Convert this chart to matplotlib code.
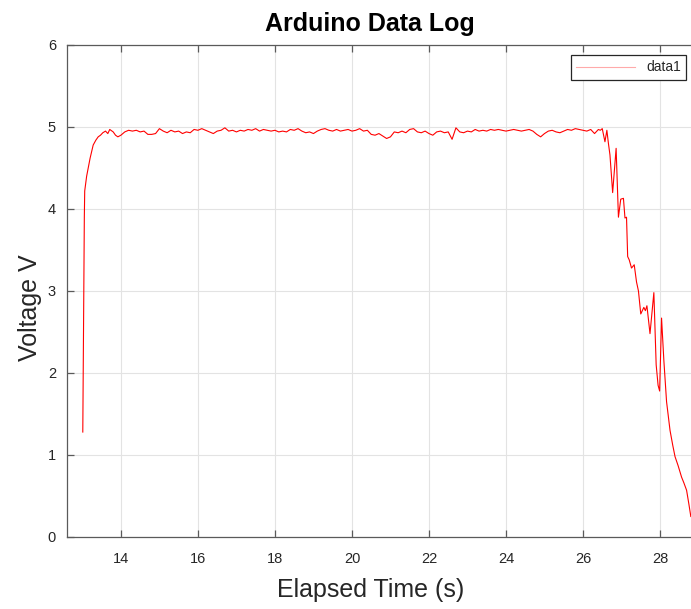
import numpy as np
import matplotlib
matplotlib.use('Agg')
import matplotlib.pyplot as plt

# --- Logged data (read off the reference) ---
# rise after power-up
t_rise = [13.01, 13.05, 13.06, 13.11, 13.16, 13.20, 13.28, 13.35, 13.41, 13.47, 13.53, 13.60, 13.66, 13.71, 13.80, 13.86, 13.92]
v_rise = [1.28, 3.90, 4.22, 4.40, 4.52, 4.62, 4.78, 4.84, 4.88, 4.90, 4.93, 4.95, 4.92, 4.97, 4.94, 4.90, 4.88]

# steady section, one sample every 0.1 s starting at 14.0 s
flat_start = 14.0
flat_step = 0.1
v_flat = [
    4.90, 4.94, 4.96, 4.95, 4.96, 4.94, 4.95, 4.91, 4.91, 4.92,
    4.98, 4.95, 4.93, 4.96, 4.94, 4.95, 4.92, 4.94, 4.93, 4.97,
    4.96, 4.98, 4.96, 4.94, 4.92, 4.95, 4.96, 4.99, 4.95, 4.96,
    4.94, 4.96, 4.95, 4.97, 4.96, 4.98, 4.95, 4.97, 4.96, 4.95,
    4.96, 4.94, 4.95, 4.94, 4.97, 4.96, 4.98, 4.95, 4.93, 4.94,
    4.92, 4.95, 4.97, 4.98, 4.96, 4.95, 4.97, 4.95, 4.96, 4.97,
    4.95, 4.96, 4.98, 4.95, 4.96, 4.91, 4.90, 4.92, 4.89, 4.86,
    4.88, 4.94, 4.93, 4.95, 4.93, 4.97, 4.98, 4.94, 4.93, 4.95,
    4.92, 4.90, 4.94, 4.95, 4.93, 4.94, 4.85, 4.99, 4.94, 4.93,
    4.95, 4.94, 4.97, 4.95, 4.96, 4.95, 4.97, 4.96, 4.97, 4.96,
    4.95, 4.96, 4.97, 4.96, 4.95, 4.96, 4.97, 4.95, 4.91, 4.88,
    4.92, 4.95, 4.96, 4.94, 4.93, 4.95, 4.97, 4.96, 4.98, 4.97,
    4.96, 4.95, 4.97, 4.92, 4.97,
]

# battery dropping off
t_drop = [26.45, 26.50, 26.57, 26.62, 26.66, 26.70, 26.77, 26.86, 26.92, 26.98,
          27.05, 27.09, 27.13, 27.16, 27.20, 27.26, 27.33, 27.39, 27.44, 27.50,
          27.58, 27.62, 27.66, 27.74, 27.84, 27.90, 27.95, 27.99, 28.04, 28.10,
          28.17, 28.22, 28.26, 28.33, 28.39, 28.47, 28.56, 28.62, 28.69, 28.75, 28.80]
v_drop = [4.96, 4.98, 4.82, 4.96, 4.80, 4.66, 4.20, 4.74, 3.90, 4.12,
          4.13, 3.89, 3.90, 3.42, 3.38, 3.28, 3.32, 3.11, 3.00, 2.72,
          2.80, 2.76, 2.82, 2.48, 2.98, 2.10, 1.85, 1.78, 2.67, 2.15,
          1.65, 1.45, 1.30, 1.12, 0.98, 0.87, 0.73, 0.66, 0.57, 0.40, 0.25]

t_flat = flat_start + flat_step * np.arange(len(v_flat))
t = np.concatenate([t_rise, t_flat, t_drop])
v = np.concatenate([v_rise, v_flat, v_drop])

plt.rcParams['font.family'] = ['Liberation Sans', 'DejaVu Sans']

fig = plt.figure(figsize=(6.91, 6.09), dpi=100)
# axes run past the right edge of the image, like the cropped original
ax = fig.add_axes([67 / 691, 72 / 609, 645 / 691, 492 / 609])

ax.plot(t, v, color='#ff0000', linewidth=0.8, label='data1')

ax.set_xlim(12.6, 29.35)
ax.set_ylim(0, 6)
ax.set_xticks([14, 16, 18, 20, 22, 24, 26, 28])
ax.set_yticks([0, 1, 2, 3, 4, 5, 6])

gray = '#262626'
ax.grid(True, color='#e3e3e3', linewidth=0.8)
ax.set_axisbelow(True)
for s in ax.spines.values():
    s.set_color('#5a5a5a')
    s.set_linewidth(0.9)
ax.tick_params(direction='in', length=5, width=0.9, color='#5a5a5a',
               labelsize=10.5, labelcolor=gray, top=True, right=True)
ax.tick_params(axis='x', pad=11)
ax.tick_params(axis='y', pad=8)

ax.set_title('Arduino Data Log', fontsize=18, fontweight='bold', x=0.47, pad=10)
ax.set_xlabel('Elapsed Time (s)', fontsize=18, color=gray)
ax.set_ylabel('Voltage V', fontsize=18, color=gray)
ax.xaxis.set_label_coords(0.471, -0.083)
ax.yaxis.set_label_coords(-0.039, 0.467)

leg = ax.legend(loc='upper right', bbox_to_anchor=(0.96, 0.980), borderaxespad=0,
                fontsize=10, handlelength=4.2, fancybox=False, framealpha=1,
                edgecolor='#262626')
leg.get_frame().set_linewidth(0.9)
for h in leg.legend_handles:
    h.set_color('#ffaaaa')
for txt in leg.get_texts():
    txt.set_color(gray)

fig.savefig('out.png', dpi=100)
